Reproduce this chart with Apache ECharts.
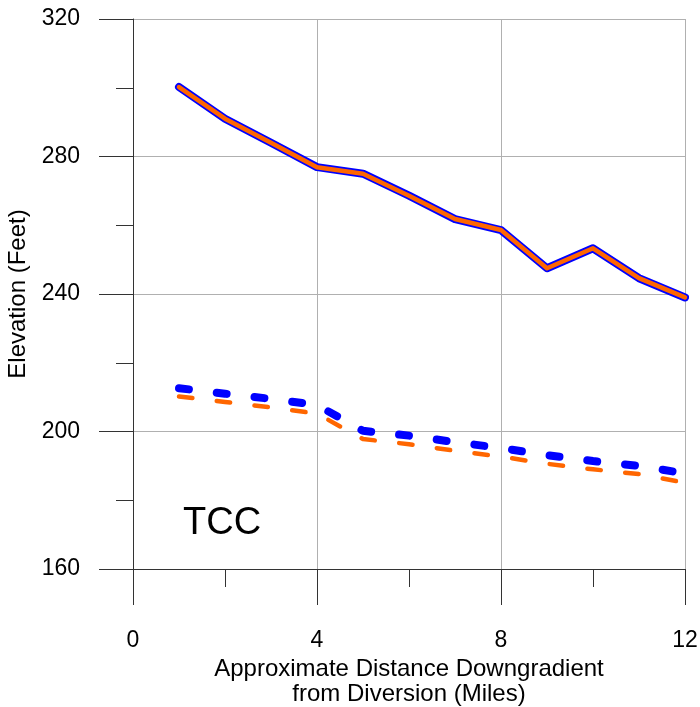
<!DOCTYPE html>
<html>
<head>
<meta charset="utf-8">
<script src="https://cdn.jsdelivr.net/npm/echarts@6/dist/echarts.min.js"></script>
<style>html,body{margin:0;padding:0;background:#fff;}#c{width:700px;height:707px;}</style>
</head>
<body>
<div id="c"></div>
<script>
const distance = [1,2,3,4,5,6,7,8,9,10,11,12];
const groundBlue = [300.2, 291, 284, 276.9, 275, 268.6, 261.8, 258.6, 247.5, 253.3, 244.6, 239];
const groundOrange = [300.2, 291, 284, 276.9, 275, 268.6, 261.8, 258.6, 247.5, 253.3, 244.6, 239];
const waterBlue = [212.6, 211, 209.5, 207.7, 200.2, 198.8, 196.9, 195.2, 193.1, 191.4, 190, 187.8];
const waterOrange = [210.2, 208.6, 207, 205.2, 197.8, 196.3, 194.4, 192.7, 190.6, 189, 187.6, 185.1];
const xTicks = {min: 0, max: 12, interval: 4};
const yTicks = {min: 160, max: 320, interval: 40};

const pairs = arr => distance.map((d, i) => [d, arr[i]]);
const font = '"Liberation Sans", Arial, sans-serif';
const chart = echarts.init(document.getElementById('c'), null, {renderer: 'canvas'});
chart.setOption({
  animation: false,
  backgroundColor: '#fff',
  title: {text: 'TCC', left: 178, top: 500, textStyle: {fontFamily: font, fontSize: 38, fontWeight: 'normal', color: '#000'}},
  grid: {left: 133, right: 15, top: 19, bottom: 138, outerBoundsMode: 'none', containLabel: false},
  xAxis: {
    type: 'value', min: xTicks.min, max: xTicks.max, interval: xTicks.interval,
    name: 'Approximate Distance Downgradient\nfrom Diversion (Miles)',
    nameLocation: 'middle', nameGap: 78,
    nameTextStyle: {fontFamily: font, fontSize: 24, color: '#000', lineHeight: 25},
    axisLine: {lineStyle: {color: '#333', width: 1}},
    axisTick: {show: true, inside: false, length: 36, lineStyle: {color: '#333'}},
    minorTick: {show: true, splitNumber: 2, length: 18, lineStyle: {color: '#333'}},
    axisLabel: {fontFamily: font, fontSize: 23, color: '#000', margin: 60},
    splitLine: {show: true, lineStyle: {color: '#b0b0b0', width: 1}}
  },
  yAxis: {
    type: 'value', min: yTicks.min, max: yTicks.max, interval: yTicks.interval,
    name: 'Elevation (Feet)', nameLocation: 'middle', nameGap: 99,
    nameTextStyle: {fontFamily: font, fontSize: 24, color: '#000'},
    axisLine: {show: true, lineStyle: {color: '#333', width: 1}},
    axisTick: {show: true, inside: false, length: 34, lineStyle: {color: '#333'}},
    minorTick: {show: true, splitNumber: 2, length: 17, lineStyle: {color: '#333'}},
    axisLabel: {fontFamily: font, fontSize: 23, color: '#000', margin: 53},
    splitLine: {show: true, lineStyle: {color: '#b0b0b0', width: 1}}
  },
  series: [
    {type: 'line', data: pairs(groundBlue), symbol: 'none', lineStyle: {color: '#0000ff', width: 8, cap: 'round', join: 'round'}},
    {type: 'line', data: pairs(groundOrange), symbol: 'none', lineStyle: {color: '#ff6600', width: 4.5, cap: 'round', join: 'round'}},
    {type: 'line', data: pairs(waterBlue), symbol: 'none', lineStyle: {color: '#0000ff', width: 8, type: [10, 28], cap: 'round', join: 'round'}},
    {type: 'line', data: pairs(waterOrange), symbol: 'none', lineStyle: {color: '#ff6600', width: 4.5, type: [13.5, 24.5], cap: 'round', join: 'round'}}
  ]
});
</script>
</body>
</html>
